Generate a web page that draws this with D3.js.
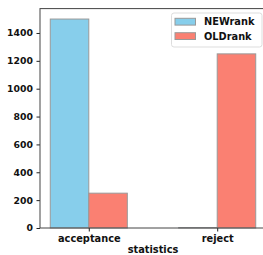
<!DOCTYPE html>
<html>
<head>
<meta charset="utf-8">
<script src="https://cdn.jsdelivr.net/npm/d3@7"></script>
<style>
  body { margin: 0; background: #fff; }
  text { font-family: "DejaVu Sans", sans-serif; font-weight: bold; }
</style>
</head>
<body>
<div id="chart"></div>
<script>
var categories = ['acceptance', 'reject'];
var seriesNames = ['NEWrank', 'OLDrank'];
var newRank = [1500, 3];
var oldRank = [250, 1250];
var yTicks = [0, 200, 400, 600, 800, 1000, 1200, 1400];
var colors = ['#87CEEB', '#FA8072'];

var W = 263, H = 255;
var margin = {top: 8.6, right: -3, bottom: 27, left: 40};
var width = W - margin.left - margin.right;
var height = H - margin.top - margin.bottom;
var barW = 0.3;

var svg = d3.select('#chart').append('svg')
  .attr('width', W)
  .attr('height', H);

var g = svg.append('g')
  .attr('transform', 'translate(' + margin.left + ',' + margin.top + ')');

var x = d3.scaleLinear()
  .domain([-barW - 0.08, 1 + barW + 0.08])
  .range([0, width]);

var y = d3.scaleLinear()
  .domain([0, 1575])
  .range([height, 0]);

var series = [newRank, oldRank];

series.forEach(function(vals, s) {
  g.selectAll('.bar-' + s)
    .data(vals)
  .enter().append('rect')
    .attr('class', 'bar-' + s)
    .attr('x', function(d, i) { return x(i + (s === 0 ? -barW : 0)); })
    .attr('y', function(d) { return y(d); })
    .attr('width', x(barW) - x(0))
    .attr('height', function(d) { return height - y(d); })
    .attr('fill', colors[s])
    .attr('stroke', '#999')
    .attr('stroke-width', 1);
});

// axes
var yAxis = g.append('g')
  .call(d3.axisLeft(y).tickValues(yTicks).tickSize(3.5).tickPadding(3.5).tickFormat(d3.format('d')));
yAxis.select('.domain').remove();
yAxis.selectAll('line').attr('stroke', '#222');
yAxis.selectAll('text').style('font-size', '9.3px').attr('fill', '#111');

var xAxis = g.append('g')
  .attr('transform', 'translate(0,' + height + ')')
  .call(d3.axisBottom(x).tickValues([0, 1]).tickSize(3.5).tickPadding(3.5)
    .tickFormat(function(d) { return categories[d]; }));
xAxis.select('.domain').remove();
xAxis.selectAll('line').attr('stroke', '#222');
xAxis.selectAll('text').style('font-size', '9.8px').attr('fill', '#111');

// spines
g.append('rect')
  .attr('x', 0).attr('y', 0)
  .attr('width', width).attr('height', height)
  .attr('fill', 'none')
  .attr('stroke', '#444')
  .attr('stroke-width', 1);

g.append('text')
  .attr('x', width / 2)
  .attr('y', height + 25)
  .attr('text-anchor', 'middle')
  .style('font-size', '9.8px')
  .attr('fill', '#111')
  .text('statistics');

// legend
var leg = svg.append('g').attr('transform', 'translate(171.5,13)');
leg.append('rect')
  .attr('width', 90.5).attr('height', 34)
  .attr('rx', 2.5)
  .attr('fill', '#fff').attr('fill-opacity', 0.8)
  .attr('stroke', '#ddd');
seriesNames.forEach(function(name, i) {
  leg.append('rect')
    .attr('x', 3.5).attr('y', 5.3 + i * 14.4)
    .attr('width', 20.5).attr('height', 6.8)
    .attr('fill', colors[i]).attr('stroke', '#999');
  leg.append('text')
    .attr('x', 32.5).attr('y', 12.3 + i * 14.4)
    .style('font-size', '9.8px')
    .attr('fill', '#111')
    .text(name);
});
</script>
</body>
</html>
